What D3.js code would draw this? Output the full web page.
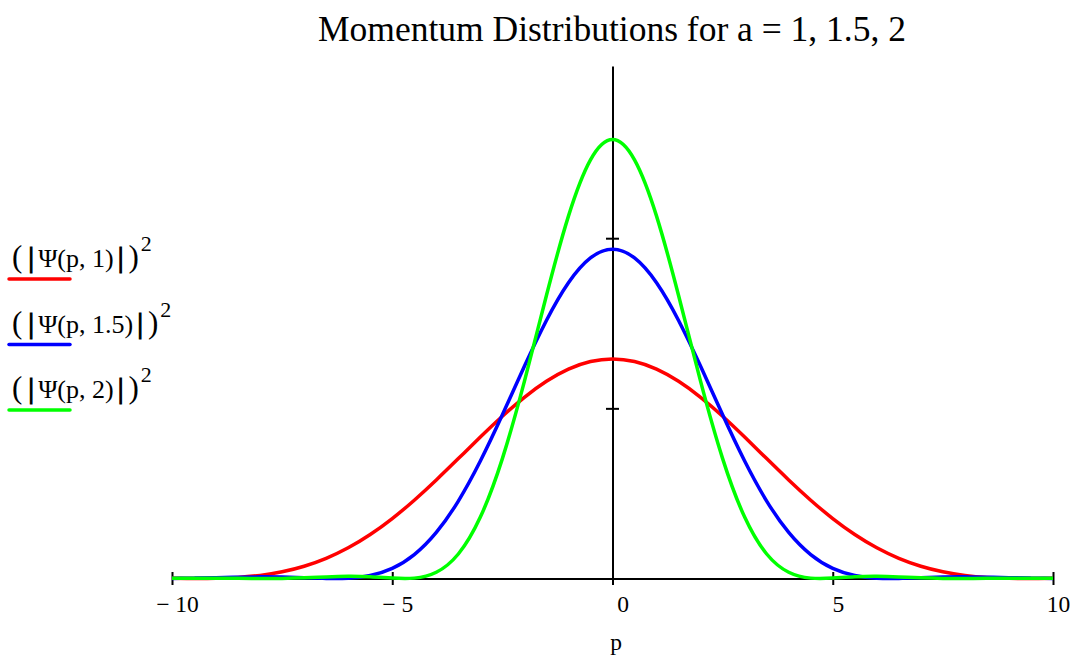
<!DOCTYPE html>
<html>
<head>
<meta charset="utf-8">
<script src="https://cdn.jsdelivr.net/npm/d3@7"></script>
<style>
  html, body { margin: 0; padding: 0; background: #ffffff; }
  svg { display: block; }
  text { font-family: "Liberation Serif", "Times New Roman", serif; fill: #000; }
</style>
</head>
<body>
<svg id="chart" width="1074" height="655"></svg>
<script>
// Momentum grid
const p = [-10, -9.5, -9, -8.5, -8, -7.5, -7, -6.5, -6, -5.5, -5, -4.5, -4, -3.5, -3, -2.5, -2, -1.5, -1, -0.5,
           0, 0.5, 1, 1.5, 2, 2.5, 3, 3.5, 4, 4.5, 5, 5.5, 6, 6.5, 7, 7.5, 8, 8.5, 9, 9.5, 10];

// |Psi(p, a)|^2 for well widths a = 1, 1.5, 2
const psiA1 = [0.00012, 0.000003, 0.00011, 0.00064, 0.00183, 0.00393, 0.00720, 0.01185, 0.01804, 0.02585,
               0.03523, 0.04602, 0.05791, 0.07046, 0.08315, 0.09537, 0.10648, 0.11588, 0.12302, 0.12749,
               0.12901,
               0.12749, 0.12302, 0.11588, 0.10648, 0.09537, 0.08315, 0.07046, 0.05791, 0.04602, 0.03523,
               0.02585, 0.01804, 0.01185, 0.00720, 0.00393, 0.00183, 0.00064, 0.00011, 0.000003, 0.00012];
const psiA15 = [0.00005, 0.00022, 0.00051, 0.00080, 0.00097, 0.00087, 0.00049, 0.00007, 0.00017, 0.00172,
                0.00590, 0.01402, 0.02706, 0.04552, 0.06903, 0.09620, 0.12473, 0.15166, 0.17383, 0.18842,
                0.19352,
                0.18842, 0.17383, 0.15166, 0.12473, 0.09620, 0.06903, 0.04552, 0.02706, 0.01402, 0.00590,
                0.00172, 0.00017, 0.00007, 0.00049, 0.00087, 0.00097, 0.00080, 0.00051, 0.00022, 0.00005];
const psiA2 = [0.00012, 0.00020, 0.00021, 0.00012, 0.00001, 0.00007, 0.00041, 0.00095, 0.00129, 0.00102,
               0.00025, 0.00022, 0.00366, 0.01440, 0.03608, 0.07047, 0.11582, 0.16630, 0.21297, 0.24605,
               0.25802,
               0.24605, 0.21297, 0.16630, 0.11582, 0.07047, 0.03608, 0.01440, 0.00366, 0.00022, 0.00025,
               0.00102, 0.00129, 0.00095, 0.00041, 0.00007, 0.00001, 0.00012, 0.00021, 0.00020, 0.00012];

const seriesParams = ["1", "1.5", "2"];
const seriesColors = ["#ff0000", "#0000ff", "#00ff00"];

const xTicks = [-10, -5, 0, 5, 10];
const xTickLabels = ["\u2212 10", "\u2212 5", "0", "5", "10"];
const yTicks = [0.1, 0.2];

const titleText = "Momentum Distributions for a = 1, 1.5, 2";
const xLabelText = "p";

const series = [psiA1, psiA15, psiA2];

const svg = d3.select("#chart");

const x = d3.scaleLinear().domain([-10, 10]).range([172, 1053]);
const y = d3.scaleLinear().domain([0, 0.3012]).range([578.5, 66]);

// Title
svg.append("text")
  .attr("x", 612).attr("y", 41)
  .attr("text-anchor", "middle")
  .attr("font-size", 35.5)
  .text(titleText);

// Horizontal axis
const xAxis = d3.axisBottom(x)
  .tickValues(xTicks)
  .tickFormat((d, i) => xTickLabels[i])
  .tickSizeOuter(0)
  .tickSizeInner(0);

const gx = svg.append("g")
  .attr("transform", `translate(0,${y(0)})`)
  .call(xAxis);
gx.select(".domain").attr("stroke", "#000").attr("stroke-width", 2);
gx.selectAll(".tick line")
  .attr("y1", -6.5).attr("y2", 6.5)
  .attr("stroke", "#000").attr("stroke-width", 2);
gx.selectAll(".tick text")
  .attr("y", 0).attr("dy", 0)
  .attr("transform", "translate(0,33)")
  .attr("dx", d => (d === 0 ? 10 : 5))
  .attr("font-family", "Liberation Serif, serif")
  .attr("font-size", 23.5)
  .attr("fill", "#000");

// Vertical axis at p = 0
const yAxis = d3.axisLeft(y)
  .tickValues(yTicks)
  .tickFormat("")
  .tickSizeOuter(0)
  .tickSizeInner(0);

const gy = svg.append("g")
  .attr("transform", `translate(${x(0)},0)`)
  .call(yAxis);
gy.select(".domain").attr("stroke", "#000").attr("stroke-width", 2);
gy.selectAll(".tick line")
  .attr("x1", -6.5).attr("x2", 6.5)
  .attr("stroke", "#000").attr("stroke-width", 2);

// Axis label
svg.append("text")
  .attr("x", 616).attr("y", 650)
  .attr("text-anchor", "middle")
  .attr("font-size", 23.5)
  .text(xLabelText);

// Curves
const line = d3.line()
  .x((d, i) => x(p[i]))
  .y(d => y(d))
  .curve(d3.curveNatural);

series.forEach((vals, k) => {
  svg.append("path")
    .datum(vals)
    .attr("fill", "none")
    .attr("stroke", seriesColors[k])
    .attr("stroke-width", 3.5)
    .attr("stroke-linejoin", "round")
    .attr("d", line);
});

// Legend: expression labels with colored underline samples
const legendBaseline = 267;
const legendStep = 65.5;

seriesParams.forEach((a, k) => {
  const by = legendBaseline + k * legendStep;
  const t = svg.append("text").attr("x", 12).attr("y", by);
  t.append("tspan").attr("font-size", 31).text("(");
  t.append("tspan").attr("font-size", 29).attr("dx", 6)
    .attr("stroke", "#000").attr("stroke-width", 1.2).text("|");
  t.append("tspan").attr("font-size", 26).attr("dx", 4).text(`\u03A8(p, ${a})`);
  t.append("tspan").attr("font-size", 29).attr("dx", 4)
    .attr("stroke", "#000").attr("stroke-width", 1.2).text("|");
  t.append("tspan").attr("font-size", 31).attr("dx", 5).text(")");
  t.append("tspan").attr("font-size", 22).attr("dx", 2).attr("dy", -16).text("2");

  svg.append("line")
    .attr("x1", 9).attr("x2", 70)
    .attr("y1", by + 12).attr("y2", by + 12)
    .attr("stroke", seriesColors[k])
    .attr("stroke-width", 3.5)
    .attr("stroke-linecap", "round");
});
</script>
</body>
</html>
